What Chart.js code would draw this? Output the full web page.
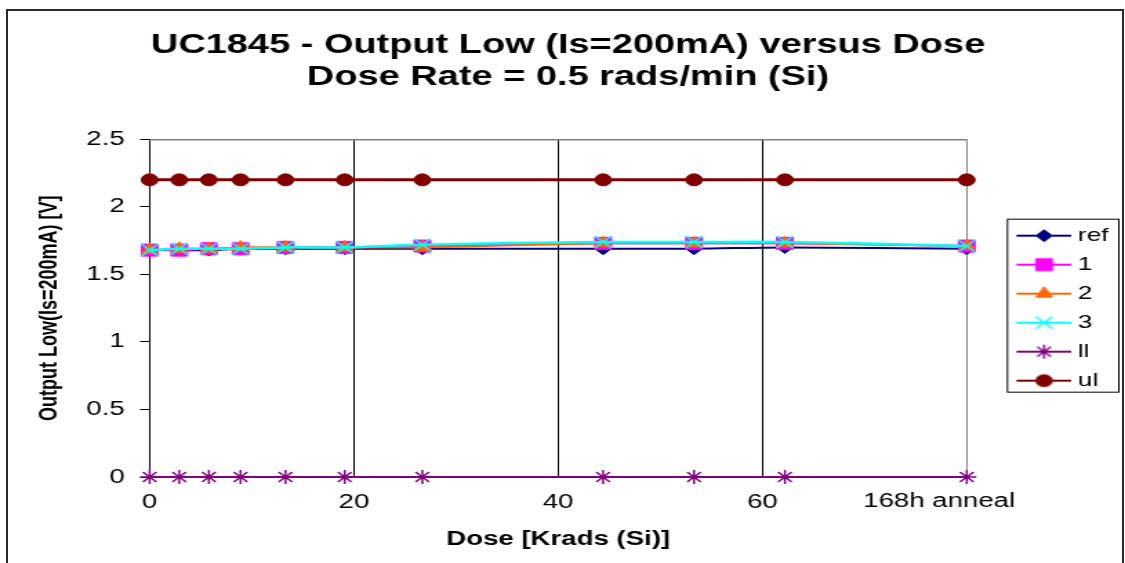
<!DOCTYPE html>
<html>
<head>
<meta charset="utf-8">
<script src="https://cdn.jsdelivr.net/npm/chart.js@4/dist/chart.umd.min.js"></script>
<style>
  html, body { margin: 0; padding: 0; background: #fff; overflow: hidden; }
  #frame { position: absolute; left: 6px; top: 9px; width: 1114px; height: 600px; border: 2px solid #2a2a2a; }
  /* the original Excel picture is stretched sideways, so the canvas is too */
  #chart { position: absolute; left: 0; top: 0; transform: scaleX(1.3804); transform-origin: 0 0; }
</style>
</head>
<body>
<div id="frame"></div>
<canvas id="chart" width="815" height="563"></canvas>
<script>
// Data
const doses = [0, 2.9, 5.8, 8.9, 13.3, 19.1, 26.7, 44.4, 53.3, 62.2, 80]; // 80 = 168h anneal
const xTickValues = [0, 20, 40, 60, 80];
const xTickLabels = ['0', '20', '40', '60', '168h anneal'];
const yTickValues = [0, 0.5, 1, 1.5, 2, 2.5];
const yTickLabels = ['0', '0.5', '1', '1.5', '2', '2.5'];
const seriesNames = ['ref', '1', '2', '3', 'll', 'ul'];
const refVals = [1.68, 1.68, 1.68, 1.69, 1.69, 1.69, 1.69, 1.69, 1.69, 1.70, 1.69];
const unit1Vals = [1.68, 1.68, 1.69, 1.69, 1.70, 1.70, 1.71, 1.73, 1.73, 1.73, 1.71];
const unit2Vals = [1.68, 1.69, 1.69, 1.70, 1.70, 1.70, 1.70, 1.73, 1.73, 1.73, 1.71];
const unit3Vals = [1.68, 1.69, 1.69, 1.69, 1.70, 1.70, 1.72, 1.74, 1.74, 1.74, 1.71];
const lowerLimit = [0, 0, 0, 0, 0, 0, 0, 0, 0, 0, 0];
const upperLimit = [2.2, 2.2, 2.2, 2.2, 2.2, 2.2, 2.2, 2.2, 2.2, 2.2, 2.2];

const FONT = '"Liberation Sans", Arial, sans-serif';

// Styles for each series
const styles = [
  { color: '#000080', point: 'rectRot', radius: 6, line: 2, pbw: 1, order: 6, tension: 0.3 },
  { color: '#FF00FF', point: 'rect', radius: 8.5, line: 2, pbw: 1, order: 5, tension: 0.3 },
  { color: '#FF6600', point: 'triangle', radius: 7, line: 2, pbw: 1, order: 4, tension: 0.3 },
  { color: '#00FFFF', point: 'crossRot', radius: 8.5, line: 2.5, pbw: 1.5, order: 3, tension: 0.3 },
  { color: '#800080', point: 'star', radius: 7, line: 2, pbw: 1.5, order: 2, tension: 0 },
  { color: '#800000', point: 'circle', radius: 6, line: 3, pbw: 1, order: 1, tension: 0 }
];
const seriesData = [refVals, unit1Vals, unit2Vals, unit3Vals, lowerLimit, upperLimit];

// Legend icons: line with marker in the middle
function makeIcon(s) {
  const c = document.createElement('canvas');
  c.width = 71;
  c.height = 18;
  const g = c.getContext('2d');
  g.strokeStyle = s.color;
  g.fillStyle = s.color;
  g.lineWidth = 2;
  g.beginPath();
  g.moveTo(31, 9);
  g.lineTo(71, 9);
  g.stroke();
  g.lineWidth = s.pbw;
  Chart.helpers.drawPoint(g, { pointStyle: s.point, radius: s.radius, rotation: 0, borderWidth: s.pbw }, 51, 9);
  return c;
}
const legendIcons = styles.map(makeIcon);

const datasets = seriesNames.map((name, i) => {
  const s = styles[i];
  return {
    label: name,
    data: doses.map((d, j) => ({ x: d, y: seriesData[i][j] })),
    borderColor: s.color,
    backgroundColor: s.color,
    borderWidth: s.line,
    pointStyle: s.point,
    pointRadius: s.radius,
    pointHoverRadius: s.radius,
    pointBackgroundColor: s.color,
    pointBorderColor: s.color,
    pointBorderWidth: s.pbw,
    tension: s.tension,
    order: s.order,
    clip: false
  };
});

// Extra drawing: plot top border, anneal label, legend frame
const extras = {
  id: 'extras',
  beforeDatasetsDraw(chart) {
    const { ctx, chartArea: a } = chart;
    ctx.save();
    ctx.strokeStyle = '#808080';
    ctx.lineWidth = 1.5;
    ctx.beginPath();
    ctx.moveTo(a.left, a.top + 0.5);
    ctx.lineTo(a.right, a.top + 0.5);
    ctx.stroke();
    ctx.restore();
  },
  afterDraw(chart) {
    const ctx = chart.ctx;
    const xs = chart.scales.x;
    ctx.save();
    ctx.font = '20px ' + FONT;
    ctx.fillStyle = '#000';
    ctx.textAlign = 'center';
    ctx.textBaseline = 'middle';
    ctx.fillText(xTickLabels[4], xs.getPixelForValue(xTickValues[4]) - 20, chart.chartArea.bottom + 24);

    const hb = chart.legend.legendHitBoxes;
    if (hb && hb.length) {
      const left = hb[0].left + 19;
      const top = hb[0].top - 7.5;
      const last = hb[hb.length - 1];
      const bottom = last.top + 20.5;
      const right = Math.max(...hb.map(b => b.left + b.width)) + 7;
      ctx.strokeStyle = '#000';
      ctx.lineWidth = 1;
      ctx.strokeRect(left + 0.5, top + 0.5, right - left, bottom - top);
    }
    ctx.restore();
  }
};

const ctx = document.getElementById('chart').getContext('2d');
new Chart(ctx, {
  type: 'line',
  data: { datasets },
  plugins: [extras],
  options: {
    responsive: false,
    animation: false,
    devicePixelRatio: 1,
    layout: { padding: { left: 10, right: 2, top: 0, bottom: 10 } },
    plugins: {
      tooltip: { enabled: false },
      title: {
        display: true,
        text: ['UC1845 - Output Low (Is=200mA) versus Dose', 'Dose Rate = 0.5 rads/min (Si)'],
        color: '#000',
        font: { family: FONT, size: 27.5, weight: 'bold', lineHeight: 1.17 },
        padding: { top: 29, bottom: 46 }
      },
      legend: {
        position: 'right',
        fullSize: false,
        labels: {
          usePointStyle: true,
          pointStyleWidth: 61,
          boxHeight: 19,
          padding: 10,
          color: '#000',
          font: { family: FONT, size: 19 },
          sort: (a, b) => a.datasetIndex - b.datasetIndex,
          generateLabels(chart) {
            const items = Chart.defaults.plugins.legend.labels.generateLabels(chart);
            items.forEach(it => { it.pointStyle = legendIcons[it.datasetIndex]; });
            return items;
          }
        }
      }
    },
    scales: {
      x: {
        type: 'linear',
        min: 0,
        max: 80,
        afterBuildTicks(scale) {
          scale.ticks = xTickValues.map(v => ({ value: v }));
        },
        ticks: {
          autoSkip: false,
          maxRotation: 0,
          padding: 13,
          color: '#000',
          font: { family: FONT, size: 20 },
          callback: v => (v === 80 ? '' : xTickLabels[xTickValues.indexOf(v)])
        },
        grid: {
          drawTicks: false,
          color: c => (c.tick && c.tick.value === 80 ? '#808080' : '#000'),
          lineWidth: 1
        },
        border: { color: '#808080' },
        title: {
          display: true,
          text: 'Dose [Krads (Si)]',
          color: '#000',
          font: { family: FONT, size: 20, weight: 'bold', lineHeight: 1.2 },
          padding: { top: 0, bottom: 2 }
        }
      },
      y: {
        min: 0,
        max: 2.5,
        afterBuildTicks(scale) {
          scale.ticks = yTickValues.map(v => ({ value: v }));
        },
        ticks: {
          padding: 11,
          color: '#000',
          font: { family: FONT, size: 20 },
          callback: v => yTickLabels[yTickValues.indexOf(v)]
        },
        grid: {
          drawOnChartArea: false,
          drawTicks: true,
          tickLength: 7,
          color: '#000'
        },
        border: { color: '#000' },
        title: {
          display: true,
          text: 'Output Low(Is=200mA) [V]',
          color: '#000',
          font: { family: FONT, size: 18, weight: 'bold', lineHeight: 1.2 },
          padding: { top: 15, bottom: 5 }
        }
      }
    }
  }
});
</script>
</body>
</html>
